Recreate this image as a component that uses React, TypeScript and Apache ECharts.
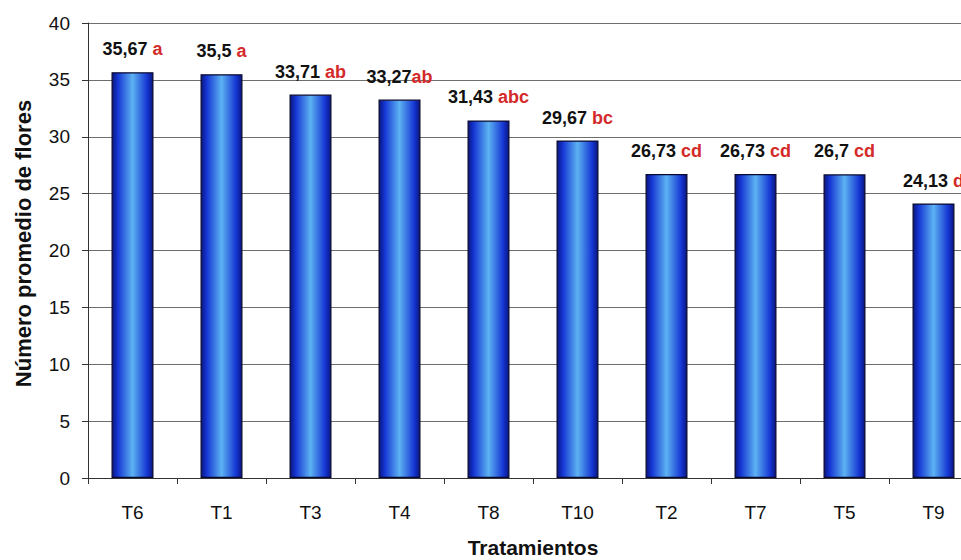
import React, { useEffect, useRef } from "react";
import * as echarts from "echarts";

// Treatments, mean flower counts and significance letters
const categories = ["T6", "T1", "T3", "T4", "T8", "T10", "T2", "T7", "T5", "T9"];
const meanFlowers = [35.67, 35.5, 33.71, 33.27, 31.43, 29.67, 26.73, 26.73, 26.7, 24.13];
const groupLetters = [" a", " a", " ab", "ab", " abc", " bc", " cd", " cd", " cd", " d"];
const yTicks = [0, 5, 10, 15, 20, 25, 30, 35, 40];

const FONT = "Arial, 'Liberation Sans', Helvetica, sans-serif";

export default function App() {
  const ref = useRef<HTMLDivElement>(null);

  useEffect(() => {
    if (!ref.current) return;
    const chart = echarts.init(ref.current, null, { renderer: "svg" });

    const barFill = new echarts.graphic.LinearGradient(0, 0, 1, 0, [
      { offset: 0, color: "#0a1680" },
      { offset: 0.14, color: "#1536d4" },
      { offset: 0.5, color: "#5cb2f2" },
      { offset: 0.86, color: "#1536d4" },
      { offset: 1, color: "#0a1680" },
    ]);

    chart.setOption({
      animation: false,
      backgroundColor: "#ffffff",
      textStyle: { fontFamily: FONT },
      // the plot runs past the right edge of the canvas, so the grid is not clamped
      grid: { left: 88, top: 23, width: 890, bottom: 82, outerBoundsMode: "none", containLabel: false },
      xAxis: {
        type: "category",
        data: categories,
        name: "Tratamientos",
        nameLocation: "middle",
        nameGap: 59,
        nameTextStyle: { fontFamily: FONT, fontWeight: "bold", fontSize: 21, color: "#111" },
        axisLine: { lineStyle: { color: "#333", width: 1 } },
        axisTick: { show: true, alignWithLabel: false, length: 6, lineStyle: { color: "#333" } },
        axisLabel: { fontFamily: FONT, fontSize: 19, color: "#111", margin: 25 },
      },
      yAxis: {
        type: "value",
        min: yTicks[0],
        max: yTicks[yTicks.length - 1],
        interval: 5,
        name: "Número promedio de flores",
        nameLocation: "middle",
        nameGap: 54,
        nameRotate: 90,
        nameTextStyle: { fontFamily: FONT, fontWeight: "bold", fontSize: 22, color: "#111", padding: [0, 0, 0, 14] },
        axisLine: { show: true, lineStyle: { color: "#333", width: 1 } },
        axisTick: { show: true, length: 6, lineStyle: { color: "#333" } },
        axisLabel: { fontFamily: FONT, fontSize: 19, color: "#111", margin: 18 },
        splitLine: { show: true, lineStyle: { color: "#6e6e6e", width: 1 } },
      },
      series: [
        {
          type: "bar",
          data: meanFlowers,
          barWidth: 42,
          itemStyle: { color: barFill, borderColor: "#0a0a30", borderWidth: 1.2 },
          label: {
            show: true,
            position: "top",
            distance: 14,
            formatter: (p: any) =>
              `{v|${String(meanFlowers[p.dataIndex]).replace(".", ",")}}{l|${groupLetters[p.dataIndex]}}`,
            rich: {
              v: { fontFamily: FONT, fontWeight: "bold", fontSize: 18, color: "#111" },
              l: { fontFamily: FONT, fontWeight: "bold", fontSize: 18, color: "#d42a2a" },
            },
          },
        },
      ],
    });

    return () => chart.dispose();
  }, []);

  return (
    <div
      ref={ref}
      style={{ position: "fixed", left: 0, top: 0, width: 961, height: 560, overflow: "hidden", background: "#fff" }}
    />
  );
}
